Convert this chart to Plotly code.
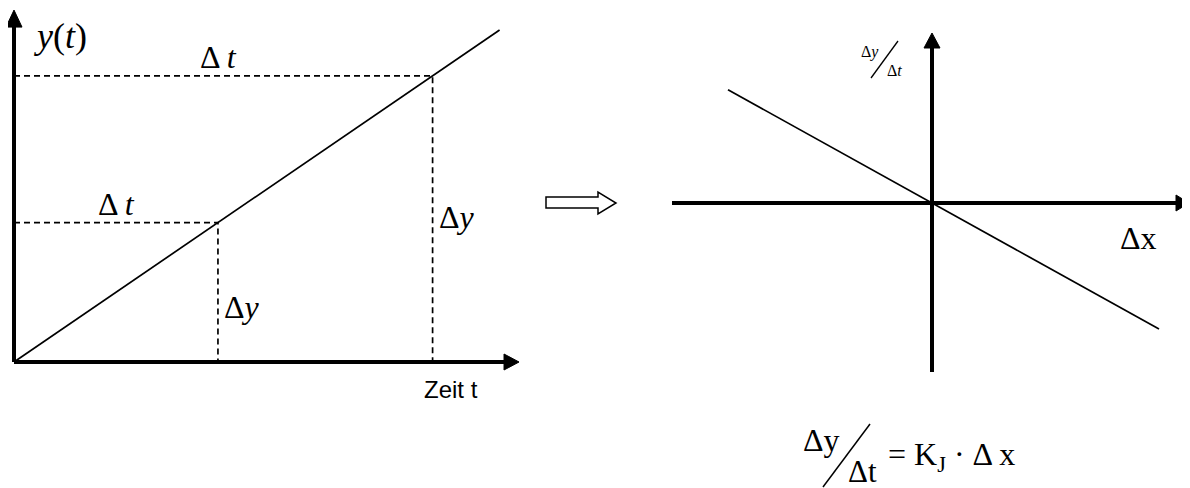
import plotly.graph_objects as go

# ---------------- data ----------------
# left panel: y(t) grows linearly with time
time_line = [0.0, 10.0]
y_line = [0.0, 10.0]
t_marks = [4.2, 8.62]          # the two Δt instants
y_marks = [4.2, 8.62]          # y at those instants
t_axis_end = 10.4
y_axis_end = 10.6

# right panel: Δy/Δt = K_J · Δx
K_J = 0.555
dx_line = [-4.08, 4.54]
rate_line = [-K_J * v for v in dx_line]
dx_axis = [-5.2, 5.14]
rate_axis = [-3.38, 3.4]

W, H = 1190, 488
OFF = 8  # page body margin of the browser
# pixel mapping of the two coordinate systems (window pixels)
L_ORIG = (14 - OFF, 362 - OFF); L_SX, L_SY = 48.56, 33.2
R_ORIG = (932 - OFF, 203 - OFF); R_S = 50.0

def lrng():
    x0 = -L_ORIG[0] / L_SX
    y0 = -(H - L_ORIG[1]) / L_SY
    return [x0, x0 + W / L_SX], [y0, y0 + H / L_SY]

def rrng():
    x0 = -R_ORIG[0] / R_S
    y0 = -(H - R_ORIG[1]) / R_S
    return [x0, x0 + W / R_S], [y0, y0 + H / R_S]

def px(x):
    return (x - OFF) / W

def py(y):
    return 1 - (y - OFF) / H

fig = go.Figure()
dash = "6px,4px"

def axis_with_head(x0, y0, x1, y1, sx, sy, xa, ya, length, half):
    """Thick axis line from (x0,y0) to tip (x1,y1) with a filled triangular head.
    length/half are in pixels, sx/sy pixel-per-unit scales."""
    horiz = (y0 == y1)
    if horiz:
        base = x1 - length / sx
        lx_, ly_ = [x0, base + 1 / sx], [y0, y1]
        hx = [x1, base, base, x1]
        hy = [y1, y1 + half / sy, y1 - half / sy, y1]
    else:
        base = y1 - length / sy
        lx_, ly_ = [x0, x1], [y0, base + 1 / sy]
        hx = [x1, x1 + half / sx, x1 - half / sx, x1]
        hy = [y1, base, base, y1]
    fig.add_trace(go.Scatter(x=lx_, y=ly_, mode="lines", line=dict(color="black", width=4),
                             xaxis=xa, yaxis=ya))
    fig.add_trace(go.Scatter(x=hx, y=hy, mode="lines", fill="toself", fillcolor="black",
                             line=dict(color="black", width=1), xaxis=xa, yaxis=ya))

# left panel axes
axis_with_head(0, 0, t_axis_end, 0, L_SX, L_SY, "x", "y", 15, 8)
axis_with_head(0, 0, 0, y_axis_end, L_SX, L_SY, "x", "y", 17, 8)
# diagonal of left panel
fig.add_trace(go.Scatter(x=time_line, y=y_line, mode="lines",
                         line=dict(color="black", width=1.7), xaxis="x", yaxis="y"))
# dashed helper lines
for tm, ym in zip(t_marks, y_marks):
    fig.add_trace(go.Scatter(x=[0, tm, tm], y=[ym, ym, 0], mode="lines",
                             line=dict(color="black", width=1.7, dash=dash),
                             xaxis="x", yaxis="y"))
# right panel axes
axis_with_head(dx_axis[0], 0, dx_axis[1], 0, R_S, R_S, "x2", "y2", 13, 8)
axis_with_head(0, rate_axis[0], 0, rate_axis[1], R_S, R_S, "x2", "y2", 15, 8)
# right panel diagonal
fig.add_trace(go.Scatter(x=dx_line, y=rate_line, mode="lines",
                         line=dict(color="black", width=1.7), xaxis="x2", yaxis="y2"))

annotations = []
serif = "Liberation Serif, Times New Roman, serif"

def label(text, x, y, size=32, family=serif, xanchor="center", yanchor="middle"):
    annotations.append(dict(text=text, x=px(x), y=py(y), xref="paper", yref="paper",
                            showarrow=False, xanchor=xanchor, yanchor=yanchor,
                            font=dict(family=family, size=size, color="black")))

label("<i>y</i>(<i>t</i>)", 60, 36, size=36)
label("Δ <i>t</i>", 218, 57)
label("Δ <i>t</i>", 116, 204)
label("Δ<i>y</i>", 457, 217)
label("Δ<i>y</i>", 242, 307)
label("Zeit t", 451, 389, size=24, family="Liberation Sans, Arial, sans-serif")
label("Δx", 1138, 238)
# small rate label on the right vertical axis
label("Δ<i>y</i>", 870, 52, size=16)
label("Δ<i>t</i>", 894, 71, size=16)
# formula
label("Δy", 821, 440)
label("Δt", 862, 471, size=31)
label("= K<sub>J</sub> · Δ x", 886, 456, xanchor="left")

shapes = [
    dict(type="line", xref="paper", yref="paper", x0=px(898), y0=py(41), x1=px(871), y1=py(78),
         line=dict(color="black", width=1.3)),
    dict(type="line", xref="paper", yref="paper", x0=px(870), y0=py(424), x1=px(823), y1=py(487),
         line=dict(color="black", width=1.5)),
    # hollow block arrow between panels
    dict(type="path", xref="paper", yref="paper",
         path="M {a},{b} L {c},{b} L {c},{d} L {e},{f} L {c},{g} L {c},{h} L {a},{h} Z".format(
             a=px(546), b=py(197), c=px(598), d=py(192), e=px(616), f=py(203),
             g=py(214), h=py(208)),
         line=dict(color="black", width=1.5), fillcolor="white"),
]

lx, ly = lrng()
rx, ry = rrng()
hidden = dict(visible=False, showgrid=False, zeroline=False, fixedrange=True)
fig.update_layout(
    width=W, height=H, margin=dict(l=0, r=0, t=0, b=0),
    paper_bgcolor="white", plot_bgcolor="white", showlegend=False,
    xaxis=dict(range=lx, domain=[0, 1], **hidden),
    yaxis=dict(range=ly, domain=[0, 1], **hidden),
    xaxis2=dict(range=rx, overlaying="x", **hidden),
    yaxis2=dict(range=ry, overlaying="y", **hidden),
    annotations=annotations, shapes=shapes,
)
fig.write_html("out.html")
